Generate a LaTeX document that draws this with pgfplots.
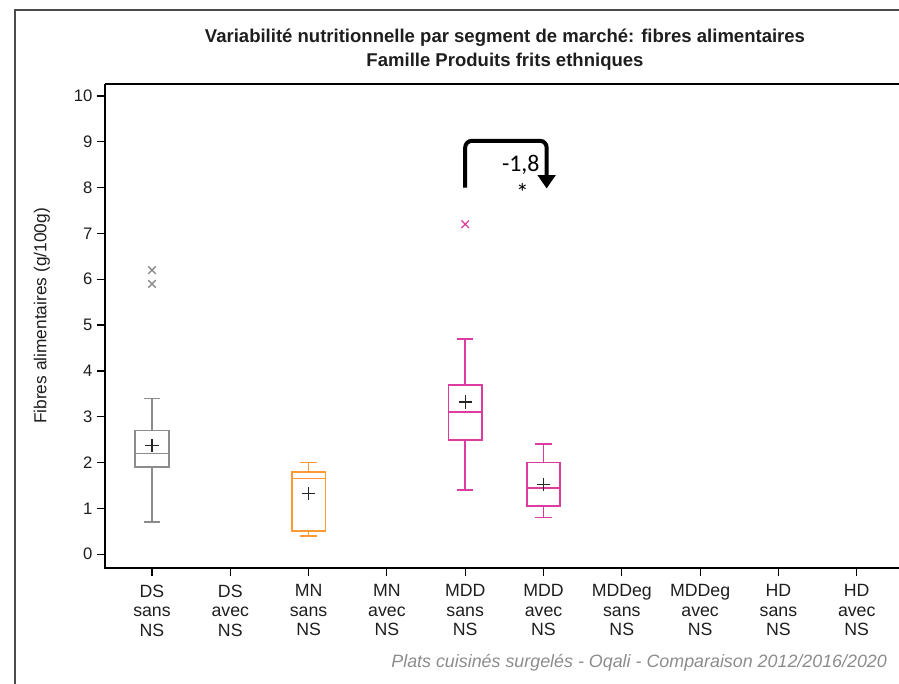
\documentclass[border=0pt]{standalone}
\usepackage{fontspec}
\setmainfont{Liberation Sans}
\newfontfamily\calib{Carlito}
\usepackage{pgfplots}
\pgfplotsset{compat=1.18}
\usepgfplotslibrary{statistics}
\usetikzlibrary{arrows.meta}
\definecolor{cgray}{RGB}{140,140,140}
\definecolor{corange}{RGB}{255,153,51}
\definecolor{cpink}{RGB}{220,60,160}
\definecolor{ctxt}{RGB}{30,30,30}
\begin{document}
\begin{tikzpicture}
\path[use as bounding box] (0,0) rectangle (674.25pt,512.25pt);
% outer frame
\draw[line width=1.1pt, color=black!70] (11.25pt,-5pt) -- (11.25pt,504.75pt) -- (680pt,504.75pt);
\node[font=\bfseries\fontsize{13.9}{15}\selectfont, color=ctxt] at (378.75pt,483.75pt) {Variabilité nutritionnelle par segment de marché: fibres alimentaires};
\node[font=\bfseries\fontsize{13.9}{15}\selectfont, color=ctxt] at (378.75pt,465.75pt) {Famille Produits frits ethniques};
\node[rotate=90, font=\fontsize{13}{15}\selectfont, color=ctxt] at (31.5pt,275.25pt) {Fibres alimentaires (g/100g)};
\node[anchor=west, font=\itshape\fontsize{13.4}{15}\selectfont, color=black!45] at (290pt,15pt) {Plats cuisinés surgelés - Oqali - Comparaison 2012/2016/2020};
\begin{axis}[
  at={(78.75pt,86.25pt)}, anchor=south west,
  scale only axis, width=595.5pt, height=363pt,
  xmin=-0.6, xmax=9.54, ymin=-0.3, ymax=10.26,
  axis line style={draw=none},
  xtick={0,1,2,3,4,5,6,7,8,9},
  xticklabels={{DS\\sans\\NS},{DS\\avec\\NS},{MN\\sans\\NS},{MN\\avec\\NS},{MDD\\sans\\NS},{MDD\\avec\\NS},{MDDeg\\sans\\NS},{MDDeg\\avec\\NS},{HD\\sans\\NS},{HD\\avec\\NS}},
  xticklabel style={align=center, font=\fontsize{13.3}{14.6}\selectfont, color=ctxt, yshift=-3pt},
  ytick={0,1,...,10},
  yticklabel style={font=\fontsize{12.5}{14}\selectfont, color=ctxt},
  /pgf/number format/assume math mode=true,
  tick align=outside, tick pos=left,
  major tick length=6pt,
  tick style={black, line width=0.9pt},
  clip=false,
  boxplot/draw direction=y,
  boxplot/every box/.style={line width=1.3pt},
  boxplot/every whisker/.style={line width=1.3pt},
  boxplot/every median/.style={line width=1.3pt},
]
\draw[line width=1.1pt, black] (rel axis cs:0,1) -- (rel axis cs:0,0) -- (rel axis cs:1.1,0);
\draw[line width=1.1pt, black] (rel axis cs:0,1) -- (rel axis cs:1.1,1);
\addplot+[boxplot prepared={draw position=0, lower whisker=0.7, lower quartile=1.9, median=2.2, upper quartile=2.7, upper whisker=3.4, box extend=0.43, whisker extend=0.21}, draw=cgray, solid, mark=none] coordinates {};
\addplot+[boxplot prepared={draw position=2, lower whisker=0.4, lower quartile=0.5, median=1.65, upper quartile=1.8, upper whisker=2.0, box extend=0.43, whisker extend=0.21}, draw=corange, solid, mark=none] coordinates {};
\addplot+[boxplot prepared={draw position=4, lower whisker=1.4, lower quartile=2.5, median=3.1, upper quartile=3.7, upper whisker=4.7, box extend=0.43, whisker extend=0.21}, draw=cpink, solid, mark=none] coordinates {};
\addplot+[boxplot prepared={draw position=5, lower whisker=0.8, lower quartile=1.05, median=1.45, upper quartile=2.0, upper whisker=2.4, box extend=0.43, whisker extend=0.21}, draw=cpink, solid, mark=none] coordinates {};
% outliers
\addplot[only marks, mark=x, mark size=4pt, cgray, line width=1pt] coordinates {(0,6.2) (0,5.9)};
\addplot[only marks, mark=x, mark size=4pt, cpink, line width=1pt] coordinates {(4,7.2)};
% means
\addplot[only marks, mark=+, mark size=5pt, black!85, line width=1pt] coordinates {(0,2.37) (2,1.32) (4,3.32) (5,1.52)};
% annotation
\draw[line width=3pt, black, rounded corners=5pt, -{Triangle[length=10pt,width=13pt]}] (axis cs:4,8.0) -- (axis cs:4,9.02) -- (axis cs:5.04,9.02) -- (axis cs:5.04,7.98);
\node[font=\calib\fontsize{17.9}{20}\selectfont] at (axis cs:4.71,8.5) {-1,8};
\node[font=\calib\fontsize{19}{20}\selectfont] at (axis cs:4.73,7.9) {*};
\end{axis}
\end{tikzpicture}
\end{document}
